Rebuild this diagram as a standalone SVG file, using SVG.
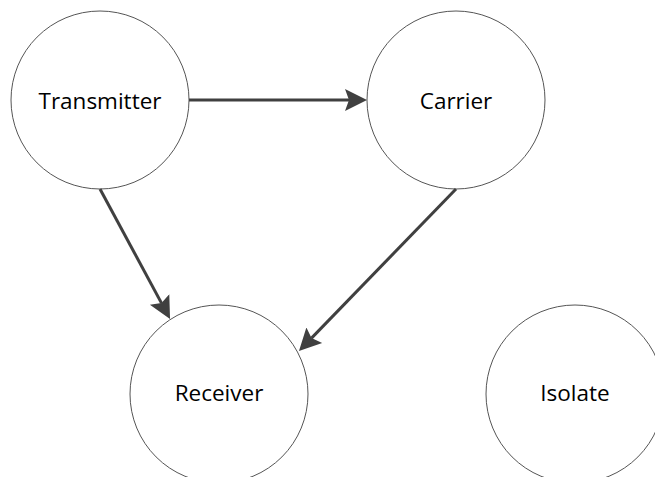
<svg xmlns="http://www.w3.org/2000/svg" width="655" height="477" viewBox="0 0 655 477">
  <style>
    .node circle { fill: #ffffff; stroke: #555555; stroke-width: 1; }
    .node text { font-family: "Open Sans", "Liberation Sans", sans-serif; font-size: 22.5px; fill: #000000; text-anchor: middle; }
    .edge { stroke: #404040; stroke-width: 3; fill: none; marker-end: url(#arrow); }
  </style>
  <defs>
    <marker id="arrow" markerUnits="userSpaceOnUse" markerWidth="24" markerHeight="24" viewBox="0 -12 24 24" refX="4" refY="0" orient="auto">
      <path d="M0,-11 L22,0 L0,11 L4,0 Z" fill="#404040"/>
    </marker>
  </defs>
  <rect width="655" height="477" fill="#ffffff"/>

  <g id="transmitter" class="node">
    <circle cx="100" cy="100" r="89"/>
    <text x="100" y="109">Transmitter</text>
  </g>
  <g id="carrier" class="node">
    <circle cx="456" cy="100" r="89"/>
    <text x="456" y="109">Carrier</text>
  </g>
  <g id="receiver" class="node">
    <circle cx="219" cy="394" r="89"/>
    <text x="219" y="401">Receiver</text>
  </g>
  <g id="isolate" class="node">
    <circle cx="575" cy="394" r="89"/>
    <text x="575" y="401">Isolate</text>
  </g>

  <g id="connectors">
    <line class="edge" x1="189" y1="100" x2="349" y2="100"/>
    <line class="edge" x1="100" y1="189" x2="161.5" y2="303.1"/>
    <line class="edge" x1="456" y1="189" x2="311.5" y2="338.1"/>
  </g>
</svg>
